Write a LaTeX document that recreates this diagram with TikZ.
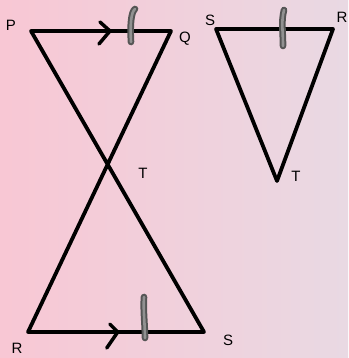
\documentclass[tikz,border=0pt]{standalone}
\usepackage{fontspec}
\setmainfont{Liberation Sans}
\usetikzlibrary{calc}
\definecolor{bgpink}{RGB}{248,199,212}
\definecolor{bglilac}{RGB}{233,217,227}
\definecolor{penouter}{RGB}{85,85,85}
\definecolor{peninner}{RGB}{145,145,145}

\begin{document}
\begin{tikzpicture}[x=1pt, y=-1pt,
    side/.style={line width=3.8pt, line join=round, line cap=round},
    chevron/.style={line width=3.5pt, line cap=round, line join=miter},
    penmark/.style={line width=2pt, draw=penouter, double=peninner, double distance=2.6pt, line cap=round},
    lbl/.style={font=\fontsize{15}{15}\selectfont, inner sep=0pt}
]

% background
\shade[left color=bgpink, right color=bglilac] (0,0) rectangle (348,358);

% Bow-tie figure
\coordinate (P) at (31,31);
\coordinate (Q) at (171,31);
\coordinate (R) at (28,332);
\coordinate (S) at (204,332);
\coordinate (T) at (intersection of P--S and Q--R);

\draw[side] (P) -- (Q) -- (R) -- (S) -- cycle;

\coordinate (pqmark) at ($(P)!0.564!(Q)$);
\coordinate (rsmark) at ($(R)!0.51!(S)$);
\draw[chevron] ([shift={(-10,-9)}]pqmark) -- (pqmark) -- ([shift={(-11,13)}]pqmark);
\draw[chevron] ([shift={(-8,-8)}]rsmark) -- (rsmark) -- ([shift={(-11,16)}]rsmark);

\draw[penmark] (131,42) .. controls (130,25) and (131,12) .. (135,9);
\draw[penmark] (144,297) .. controls (143,310) and (145,325) .. (145,338);

\node[lbl] (lP) at (11,25) {P};
\node[lbl] (lQ) at (185,39) {Q};
\node[lbl] (lT) at (143,173) {T};
\node[lbl] (lR) at (17,348) {R};
\node[lbl] (lS) at (228,340) {S};

% Single triangle
\coordinate (S2) at (216,29);
\coordinate (R2) at (333,29);
\coordinate (T2) at (277,181);

\draw[side] (S2) -- (R2) -- (T2) -- cycle;

\draw[penmark] (284,10) .. controls (281,22) and (283,30) .. (283,46);

\node[lbl] (lS2) at (210,20) {S};
\node[lbl] (lR2) at (342,17) {R};
\node[lbl] (lT2) at (296,176) {T};

\end{tikzpicture}
\end{document}
